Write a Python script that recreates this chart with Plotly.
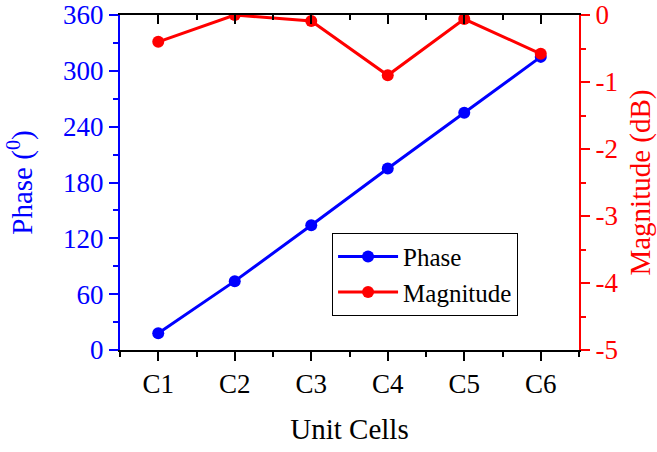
import plotly.graph_objects as go

# Unit-cell phase and transmission magnitude
cells = ["C1", "C2", "C3", "C4", "C5", "C6"]
phase_deg = [18, 74, 134, 195, 255, 315]
magnitude_db = [-0.40, 0.0, -0.09, -0.90, -0.06, -0.58]

phase_ticks = [0, 60, 120, 180, 240, 300, 360]
mag_ticks = [0, -1, -2, -3, -4, -5]
mag_ticktext = ["0", "-1", "-2", "-3", "-4", "-5"]

pos = list(range(1, len(cells) + 1))

BLUE = "#0000ff"
RED = "#ff0000"
FONT = "Liberation Serif"

fig = go.Figure()
fig.add_trace(go.Scatter(
    x=pos, y=phase_deg, name="Phase", mode="lines+markers",
    line=dict(color=BLUE, width=3), marker=dict(color=BLUE, size=12),
    xaxis="x", yaxis="y",
))
fig.add_trace(go.Scatter(
    x=pos, y=magnitude_db, name="Magnitude", mode="lines+markers",
    line=dict(color=RED, width=3), marker=dict(color=RED, size=12),
    xaxis="x", yaxis="y2",
))
# carrier for the top frame axis
fig.add_trace(go.Scatter(
    x=pos, y=phase_deg, mode="markers", marker=dict(opacity=0),
    showlegend=False, hoverinfo="skip", xaxis="x3", yaxis="y",
))

xr = [0.5, len(cells) + 0.5]

fig.update_layout(
    width=657, height=452,
    margin=dict(l=120, r=78, t=15, b=102, autoexpand=False),
    paper_bgcolor="white", plot_bgcolor="white",
    font=dict(family=FONT, size=27, color="black"),
    showlegend=True,
    legend=dict(
        x=0.462, y=0.35, xanchor="left", yanchor="top",
        bgcolor="white", bordercolor="black", borderwidth=1,
        font=dict(family=FONT, size=25, color="black"),
        itemwidth=60, tracegroupgap=0,
    ),
    xaxis=dict(
        range=xr, tickmode="array", tickvals=pos, ticktext=cells,
        showline=True, linecolor="black", linewidth=2,
        ticks="outside", ticklen=9, tickwidth=2, tickcolor="black",
        minor=dict(dtick=0.5, tick0=0.5, ticks="outside", ticklen=5,
                   tickwidth=2, tickcolor="black"),
        showgrid=False, zeroline=False, automargin=False,
        title=dict(text="Unit Cells", font=dict(size=29), standoff=20),
        tickfont=dict(size=27),
    ),
    xaxis3=dict(
        range=xr, overlaying="x", side="top", anchor="y",
        tickmode="array", tickvals=pos, showticklabels=False,
        showline=True, linecolor="black", linewidth=2,
        ticks="inside", ticklen=9, tickwidth=2, tickcolor="black",
        minor=dict(dtick=0.5, tick0=0.5, ticks="inside", ticklen=5,
                   tickwidth=2, tickcolor="black"),
        showgrid=False, zeroline=False, automargin=False,
    ),
    yaxis=dict(
        range=[0, 360], tickmode="array", tickvals=phase_ticks,
        showline=True, linecolor=BLUE, linewidth=2,
        ticks="outside", ticklen=9, tickwidth=2, tickcolor=BLUE,
        minor=dict(dtick=30, tick0=0, ticks="outside", ticklen=5,
                   tickwidth=2, tickcolor=BLUE),
        showgrid=False, zeroline=False, automargin=False,
        tickfont=dict(size=27, color=BLUE),
        title=dict(text="Phase (<sup>0</sup>)", font=dict(size=29, color=BLUE),
                   standoff=22),
    ),
    yaxis2=dict(
        range=[-5, 0], overlaying="y", side="right", anchor="x",
        tickmode="array", tickvals=mag_ticks, ticktext=mag_ticktext,
        showline=True, linecolor=RED, linewidth=2,
        ticks="outside", ticklen=9, tickwidth=2, tickcolor=RED,
        minor=dict(dtick=0.5, tick0=0, ticks="outside", ticklen=5,
                   tickwidth=2, tickcolor=RED),
        showgrid=False, zeroline=False, automargin=False,
        tickfont=dict(size=27, color=RED),
        title=dict(text="Magnitude (dB)", font=dict(size=29, color=RED),
                   standoff=14),
    ),
)

fig.write_html("out.html")
